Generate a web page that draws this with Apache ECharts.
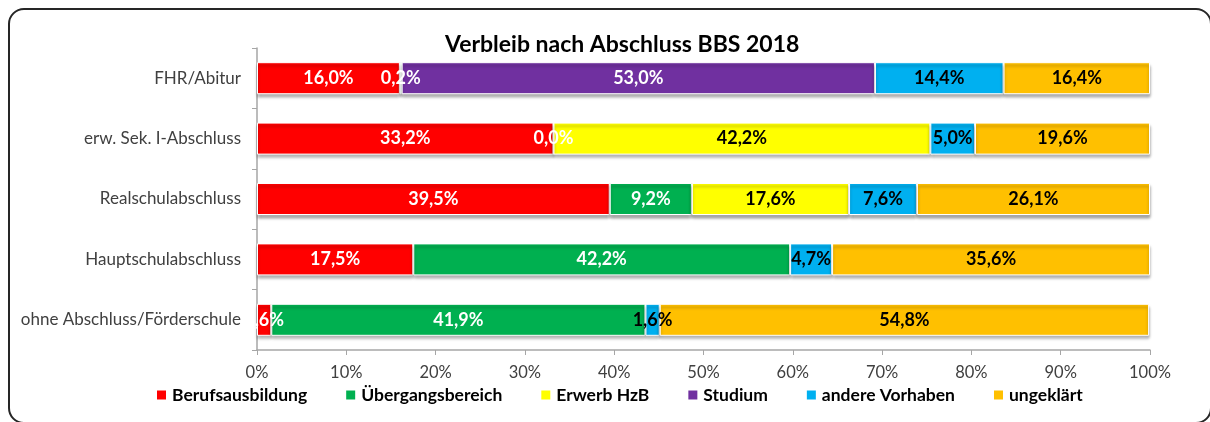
<!DOCTYPE html>
<html lang="de">
<head>
  <meta charset="UTF-8">
  <script src="https://cdn.jsdelivr.net/npm/echarts@6/dist/echarts.min.js"></script>
  <style>
    body { margin: 0; background: #ffffff; }
    /* rounded chart frame */
    #frame {
      position: absolute;
      left: 8px; top: 8px;
      width: 1200px; height: 412px;
      border: 2px solid #262626;
      border-radius: 16px;
    }
    #main { position: absolute; left: 0; top: 0; width: 1210px; height: 422px; }
  </style>
</head>
<body>
  <div id="frame"></div>
  <div id="main"></div>

  <script>
    var categories = ['FHR/Abitur', 'erw. Sek. I-Abschluss', 'Realschulabschluss', 'Hauptschulabschluss', 'ohne Abschluss/Förderschule'];
    var seriesNames = ['Berufsausbildung', 'Übergangsbereich', 'Erwerb HzB', 'Studium', 'andere Vorhaben', 'ungeklärt'];

    // percentages per category (null = no segment)
    var berufsausbildung = [16.0, 33.2, 39.5, 17.5, 1.6];
    var uebergangsbereich = [0.2, 0.0, 9.2, 42.2, 41.9];
    var erwerbHzB = [null, 42.2, 17.6, null, null];
    var studium = [53.0, null, null, null, null];
    var andereVorhaben = [14.4, 5.0, 7.6, 4.7, 1.6];
    var ungeklaert = [16.4, 19.6, 26.1, 35.6, 54.8];

    var xTicks = [0, 100, 10];  // min, max, interval

    var values = [berufsausbildung, uebergangsbereich, erwerbHzB, studium, andereVorhaben, ungeklaert];
    var colors = ['#ff0000', '#00b050', '#ffff00', '#7030a0', '#00b0f0', '#ffc000'];
    var labelColors = ['#ffffff', '#ffffff', '#000000', '#ffffff', '#000000', '#000000'];

    var chart = echarts.init(document.getElementById('main'));

    var series = seriesNames.map(function (name, i) {
      return {
        name: name,
        type: 'bar',
        stack: 'total',
        barCategoryGap: '47%',
        data: values[i],
        itemStyle: {
          color: colors[i],
          borderColor: '#ffffff',
          borderWidth: 1,
          shadowColor: 'rgba(0,0,0,0.35)',
          shadowBlur: 3,
          shadowOffsetY: 3
        },
        label: {
          show: true,
          position: 'inside',
          color: labelColors[i],
          fontFamily: 'Lato',
          fontWeight: 'bold',
          fontSize: 18,
          formatter: function (p) {
            if (p.value === null || p.value === undefined) return '';
            return p.value.toFixed(1).replace('.', ',') + '%';
          }
        }
      };
    });

    chart.setOption({
      animation: false,
      textStyle: { fontFamily: 'Lato' },
      title: {
        text: 'Verbleib nach Abschluss BBS 2018',
        left: 440,
        top: 28,
        textStyle: { fontFamily: 'Lato', fontWeight: 'bold', fontSize: 23, color: '#000000' }
      },
      legend: {
        bottom: 13,
        left: 150,
        itemWidth: 11,
        itemHeight: 11,
        itemGap: 37,
        icon: 'rect',
        textStyle: { fontFamily: 'Lato', fontWeight: 'bold', fontSize: 17.5, color: '#000000' },
        data: seriesNames
      },
      grid: { left: 257, right: 60, top: 48, bottom: 72 },
      xAxis: {
        type: 'value',
        min: xTicks[0],
        max: xTicks[1],
        interval: xTicks[2],
        axisLine: { show: true, lineStyle: { color: '#a6a6a6', width: 1.5 } },
        axisTick: { show: true, length: 5, lineStyle: { color: '#a6a6a6' } },
        axisLabel: { formatter: '{value}%', fontSize: 16.5, color: '#404040', margin: 14 },
        splitLine: { show: false }
      },
      yAxis: {
        type: 'category',
        inverse: true,
        data: categories,
        axisLine: { show: true, lineStyle: { color: '#a6a6a6', width: 1.5 } },
        axisTick: { show: true, length: 5, lineStyle: { color: '#a6a6a6' } },
        axisLabel: { fontSize: 17, color: '#404040', margin: 16 }
      },
      series: series
    });
  </script>
</body>
</html>
